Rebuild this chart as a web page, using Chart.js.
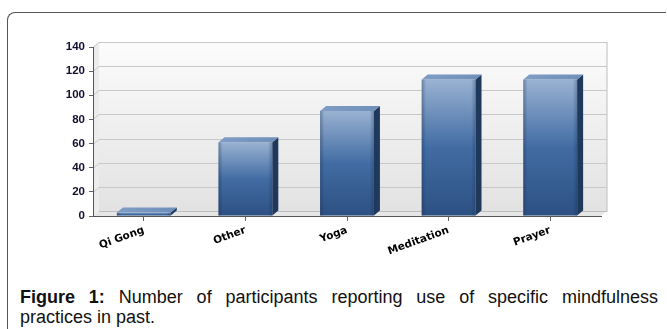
<!DOCTYPE html>
<html>
<head>
<meta charset="utf-8">
<script src="https://cdn.jsdelivr.net/npm/chart.js@4"></script>
<style>
  body { margin: 0; background: #fff; width: 667px; height: 329px; overflow: hidden; position: relative; }
  #frame { position: absolute; left: 7px; top: 12px; width: 659px; height: 400px; box-sizing: border-box;
           border-top: 1px solid #555; border-left: 1px solid #555;
           border-top-left-radius: 8px; }
  #chartBox { position: absolute; left: 0; top: 0; width: 667px; height: 270px; }
  #caption { position: absolute; left: 20px; top: 287px; width: 638px;
             font-family: "Liberation Sans", Arial, sans-serif; font-size: 18px; line-height: 20px; color: #111; }
  #caption .l1 { text-align: justify; text-align-last: justify; white-space: nowrap; }
</style>
</head>
<body>
<div id="frame"></div>
<div id="chartBox"><canvas id="chart"></canvas></div>
<div id="caption">
  <div class="l1"><b>Figure 1:</b> Number of participants reporting use of specific mindfulness</div>
  <div>practices in past.</div>
</div>
<script>
// Data
const practices = ['Qi Gong', 'Other', 'Yoga', 'Meditation', 'Prayer'];
const participants = [3, 61, 87, 113, 113];
const yTicks = [0, 20, 40, 60, 80, 100, 120, 140];

// 3D depth of the bars and back wall
const DX = 6, DY = 5;

// Front face gradient, per bar
function frontFill(ctx) {
    const chart = ctx.chart;
    if (!chart.chartArea || ctx.raw === undefined) return '#3f6aa2';
    const y = chart.scales.y;
    const top = y.getPixelForValue(ctx.raw);
    const base = y.getPixelForValue(0);
    const g = chart.ctx.createLinearGradient(0, top, 0, base);
    g.addColorStop(0, '#9ab2d2');
    g.addColorStop(0.5, '#416ca3');
    g.addColorStop(1, '#2d5083');
    return g;
}

// Back wall, floor and offset grid lines
const wallPlugin = {
    id: 'wall',
    beforeDraw(chart) {
        const { ctx, chartArea: a } = chart;
        const y = chart.scales.y;
        ctx.save();
        // left side wall
        ctx.fillStyle = '#ececec';
        ctx.beginPath();
        ctx.moveTo(a.left, a.top);
        ctx.lineTo(a.left + DX, a.top - DY);
        ctx.lineTo(a.left + DX, a.bottom - DY);
        ctx.lineTo(a.left, a.bottom);
        ctx.closePath();
        ctx.fill();
        // back wall
        const g = ctx.createLinearGradient(0, a.top - DY, 0, a.bottom - DY);
        g.addColorStop(0, '#fcfcfc');
        g.addColorStop(1, '#e2e2e2');
        ctx.fillStyle = g;
        ctx.fillRect(a.left + DX, a.top - DY, a.right - a.left, a.bottom - a.top);
        // floor
        ctx.fillStyle = '#e6e6e6';
        ctx.beginPath();
        ctx.moveTo(a.left, a.bottom);
        ctx.lineTo(a.left + DX, a.bottom - DY);
        ctx.lineTo(a.right + DX, a.bottom - DY);
        ctx.lineTo(a.right, a.bottom);
        ctx.closePath();
        ctx.fill();
        ctx.strokeStyle = '#bdbdbd';
        ctx.lineWidth = 1;
        ctx.beginPath();
        ctx.moveTo(a.left + DX, a.bottom - DY + 0.5);
        ctx.lineTo(a.right + DX, a.bottom - DY + 0.5);
        ctx.lineTo(a.right + DX, a.top - DY);
        ctx.stroke();
        // grid lines
        ctx.strokeStyle = '#c8c8c8';
        yTicks.forEach(v => {
            if (v === 0) return;
            const py = Math.round(y.getPixelForValue(v)) + 0.5;
            ctx.beginPath();
            ctx.moveTo(a.left, py);
            ctx.lineTo(a.left + DX, py - DY);
            ctx.lineTo(a.right + DX, py - DY);
            ctx.stroke();
        });
        ctx.restore();
    },
    afterDatasetsDraw(chart) {
        const { ctx } = chart;
        const meta = chart.getDatasetMeta(0);
        ctx.save();
        meta.data.forEach(bar => {
            const p = bar.getProps(['x', 'y', 'base', 'width'], true);
            const l = p.x - p.width / 2, r = p.x + p.width / 2;
            // side face
            ctx.fillStyle = '#1f395c';
            ctx.beginPath();
            ctx.moveTo(r, p.y);
            ctx.lineTo(r + DX, p.y - DY);
            ctx.lineTo(r + DX, p.base - DY);
            ctx.lineTo(r, p.base);
            ctx.closePath();
            ctx.fill();
            // top face
            const tg = ctx.createLinearGradient(l, 0, r + DX, 0);
            tg.addColorStop(0, '#7f9dc4');
            tg.addColorStop(1, '#6f8fba');
            ctx.fillStyle = tg;
            ctx.beginPath();
            ctx.moveTo(l, p.y);
            ctx.lineTo(l + DX, p.y - DY);
            ctx.lineTo(r + DX, p.y - DY);
            ctx.lineTo(r, p.y);
            ctx.closePath();
            ctx.fill();
            // soft edge shading on the front
            const eg = ctx.createLinearGradient(l, 0, r, 0);
            eg.addColorStop(0, 'rgba(20,40,70,0.35)');
            eg.addColorStop(0.08, 'rgba(20,40,70,0)');
            eg.addColorStop(0.92, 'rgba(20,40,70,0)');
            eg.addColorStop(1, 'rgba(20,40,70,0.3)');
            ctx.fillStyle = eg;
            ctx.fillRect(l, p.y, p.width, p.base - p.y);
        });
        ctx.restore();
    }
};

new Chart(document.getElementById('chart'), {
    type: 'bar',
    data: {
        labels: practices,
        datasets: [{
            data: participants,
            backgroundColor: frontFill,
            borderWidth: 0,
            categoryPercentage: 1,
            barPercentage: 0.53
        }]
    },
    options: {
        responsive: true,
        maintainAspectRatio: false,
        animation: false,
        layout: { padding: { top: 47, right: 66, left: 0, bottom: 0 } },
        plugins: { legend: { display: false }, tooltip: { enabled: false } },
        scales: {
            x: {
                afterFit: s => { s.height = 54; },
                grid: { offset: false, drawOnChartArea: false, tickLength: 5, color: '#666' },
                border: { color: '#555', width: 1 },
                ticks: {
                    minRotation: 20, maxRotation: 20, padding: 3, color: '#000',
                    font: { family: 'DejaVu Sans', weight: 'bold', size: 10.5 }
                }
            },
            y: {
                min: 0, max: 140,
                afterFit: s => { s.width = 93; },
                afterBuildTicks: s => { s.ticks = yTicks.map(v => ({ value: v })); },
                grid: { drawOnChartArea: false, tickLength: 4, color: '#666' },
                border: { color: '#555', width: 1 },
                ticks: {
                    padding: 4, color: '#10102e',
                    font: { family: 'Liberation Sans', weight: 'bold', size: 11.5 }
                }
            }
        }
    },
    plugins: [wallPlugin]
});
</script>
</body>
</html>
